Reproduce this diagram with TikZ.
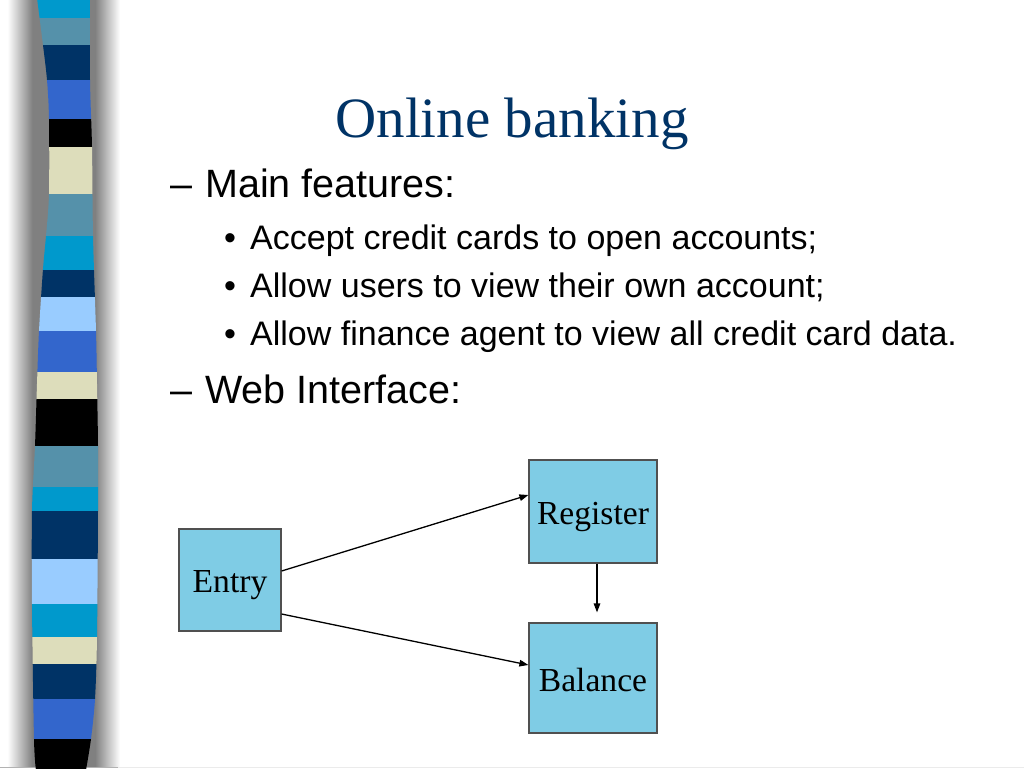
\documentclass[tikz,border=0pt]{standalone}
\usepackage{fontspec}
\setmainfont{Liberation Serif}
\newfontfamily\arialf{Liberation Sans}
\usetikzlibrary{arrows.meta,calc}
\definecolor{scyan}{RGB}{0,153,204}
\definecolor{ssteel}{RGB}{85,145,170}
\definecolor{snavy}{RGB}{0,51,102}
\definecolor{sroyal}{RGB}{51,102,204}
\definecolor{sbeige}{RGB}{221,221,187}
\definecolor{slight}{RGB}{153,204,255}
\definecolor{titleblue}{RGB}{0,51,102}
\definecolor{boxfill}{RGB}{127,204,229}
\definecolor{boxline}{RGB}{80,80,80}
\pgfdeclarehorizontalshading{stripeshadow}{100bp}{color(0bp)=(white); color(25bp)=(white); color(28bp)=(white); color(38bp)=(black!50); color(63bp)=(black!50); color(73bp)=(white); color(100bp)=(white)}
\newcommand{\lowered}[2]{\raisebox{-#1}[\height][\depth]{#2}}
\tikzset{
  titletext/.style={inner sep=0pt, anchor=base, font=\fontsize{57}{60}\selectfont, text=titleblue},
  lvlone/.style={inner sep=0pt, anchor=base west, font=\arialf\fontsize{39.5}{42}\selectfont},
  lvltwo/.style={inner sep=0pt, anchor=base west, font=\arialf\fontsize{34}{36}\selectfont},
  pagebox/.style={draw=boxline, line width=1.2pt, fill=boxfill, inner sep=0pt, font=\fontsize{33.6}{36}\selectfont},
  conn/.style={line width=1.3pt, -{Triangle[length=9pt,width=6.5pt]}}
}
\begin{document}
\begin{tikzpicture}[x=1pt,y=-1pt]
\useasboundingbox (0,0) rectangle (1024,768);
\fill[white] (0,0) rectangle (1024,768);
% shadow of the stripe
\shade[shading=stripeshadow] (0,0) rectangle (125,766);
\draw[black!30, line width=1pt] (0,767) -- (118,767);
\draw[black!8, line width=1pt] (118,767) -- (1024,767);
% stripe
\begin{scope}
\clip plot[smooth] coordinates {(37,-2) (43,45) (47,80) (49,119) (49,194) (46,236) (43,269) (39,331) (37,384) (35,446) (32,511) (32,604) (34,739) (36,770)}
  -- plot[smooth] coordinates {(86,770) (91,739) (95,699) (97,637) (98,511) (98,446) (97,384) (96,331) (93,236) (92,147) (90,80) (90,-2)} -- cycle;
\foreach \ya/\yb/\c in {-2/18/scyan, 18/45/ssteel, 45/80/snavy, 80/119/sroyal, 119/147/black, 147/194/sbeige, 194/236/ssteel, 236/270/scyan, 270/297/snavy, 297/331/slight, 331/372/sroyal, 372/399/sbeige, 399/446/black, 446/487/ssteel, 487/511/scyan, 511/559/snavy, 559/604/slight, 604/637/scyan, 637/664/sbeige, 664/699/snavy, 699/739/sroyal, 739/770/black}
  \fill[\c] (20,\ya) rectangle (110,\yb);
\end{scope}
% texts
\node[titletext] (title) at (512,137) {Online banking};
\node[lvlone] (d1) at (170,197) {–};
\node[lvlone] (t1) at (205,197) {Main features:};
\node[lvltwo] (b1) at (224,249) {•};
\node[lvltwo] (t2) at (250,249) {Accept credit cards to open accounts;};
\node[lvltwo] (b2) at (224,297) {•};
\node[lvltwo] (t3) at (250,297) {Allow users to view their own account;};
\node[lvltwo] (b3) at (224,345) {•};
\node[lvltwo] (t4) at (250,345) {Allow finance agent to view all credit card data.};
\node[lvlone] (d2) at (170,403) {–};
\node[lvlone] (t5) at (205,403) {Web Interface:};
% diagram
\node[pagebox, minimum width=102pt, minimum height=102pt] (entry) at (230,580) {\lowered{5pt}{Entry}};
\node[pagebox, minimum width=128pt, minimum height=103pt] (reg) at (593,511.5) {\lowered{5pt}{Register}};
\node[pagebox, minimum width=128pt, minimum height=110pt] (bal) at (593,678) {\lowered{2pt}{Balance}};
\draw[conn] ([yshift=9pt]entry.east) -- ([yshift=16.5pt]reg.west);
\draw[conn] ([yshift=-34pt]entry.east) -- ([yshift=13pt]bal.west);
\draw[conn, shorten >=10pt] ([xshift=4pt]reg.south) -- ([xshift=4pt]bal.north);
\end{tikzpicture}
\end{document}
